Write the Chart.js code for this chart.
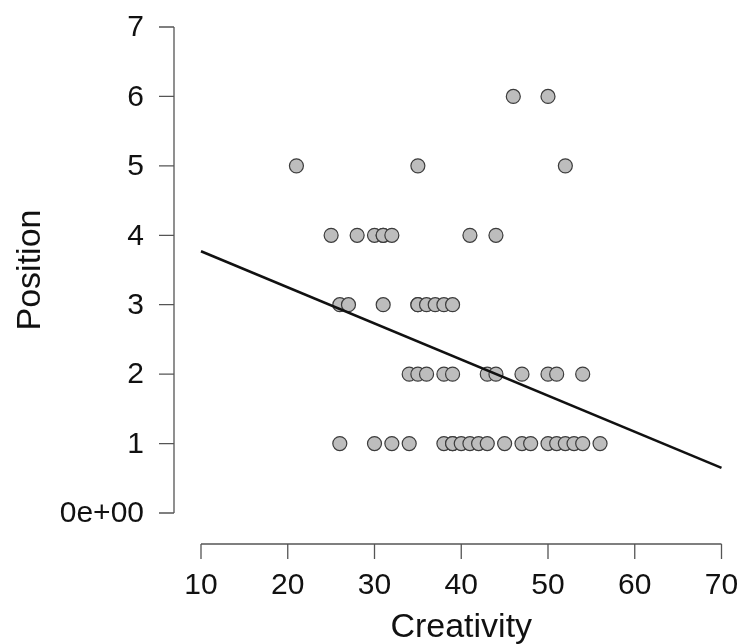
<!DOCTYPE html>
<html>
<head>
<meta charset="utf-8">
<script src="https://cdn.jsdelivr.net/npm/chart.js@4/dist/chart.umd.min.js"></script>
<style>
html,body{margin:0;padding:0;background:#fff;}
#wrap{width:739px;height:644px;}
</style>
</head>
<body>
<div id="wrap"><canvas id="c" width="739" height="644"></canvas></div>
<script>
// Data
const creativity = [46, 50,
  21, 35, 52,
  25, 28, 30, 31, 31, 32, 41, 44,
  26, 27, 31, 35, 35, 36, 37, 38, 39,
  34, 35, 36, 38, 39, 43, 44, 47, 50, 51, 54,
  26, 30, 32, 34, 38, 39, 39, 40, 41, 42, 43, 45, 47, 48, 50, 51, 52, 53, 54, 56];
const position = [6, 6,
  5, 5, 5,
  4, 4, 4, 4, 4, 4, 4, 4,
  3, 3, 3, 3, 3, 3, 3, 3, 3,
  2, 2, 2, 2, 2, 2, 2, 2, 2, 2, 2,
  1, 1, 1, 1, 1, 1, 1, 1, 1, 1, 1, 1, 1, 1, 1, 1, 1, 1, 1, 1];
const fitX = [10, 70];
const fitY = [3.77, 0.65];
const xTicks = [10, 20, 30, 40, 50, 60, 70];
const yTicks = [0, 1, 2, 3, 4, 5, 6, 7];
const yTickLabels = ['0e+00', '1', '2', '3', '4', '5', '6', '7'];
const xTitle = 'Creativity';
const yTitle = 'Position';

const points = creativity.map((x, i) => ({x: x, y: position[i]}));
const fit = fitX.map((x, i) => ({x: x, y: fitY[i]}));

const FONT = '"Liberation Sans", Arial, sans-serif';

const axesPlugin = {
  id: 'rAxes',
  afterDraw(chart) {
    const ctx = chart.ctx;
    const xs = chart.scales.x, ys = chart.scales.y;
    const axisX = 174;   // detached y-axis line
    const axisY = 544;   // detached x-axis line
    const tick = 15;
    ctx.save();
    ctx.strokeStyle = '#555';
    ctx.lineWidth = 1.3;
    ctx.fillStyle = '#111';
    // y axis
    ctx.beginPath();
    ctx.moveTo(axisX, ys.getPixelForValue(yTicks[0]));
    ctx.lineTo(axisX, ys.getPixelForValue(yTicks[yTicks.length - 1]));
    yTicks.forEach(v => {
      const p = ys.getPixelForValue(v);
      ctx.moveTo(axisX, p);
      ctx.lineTo(axisX - tick, p);
    });
    ctx.stroke();
    ctx.font = '30px ' + FONT;
    ctx.textAlign = 'right';
    ctx.textBaseline = 'middle';
    yTicks.forEach((v, i) => {
      ctx.fillText(yTickLabels[i], 144, ys.getPixelForValue(v) + 1);
    });
    // x axis
    ctx.beginPath();
    ctx.moveTo(xs.getPixelForValue(xTicks[0]), axisY);
    ctx.lineTo(xs.getPixelForValue(xTicks[xTicks.length - 1]), axisY);
    xTicks.forEach(v => {
      const p = xs.getPixelForValue(v);
      ctx.moveTo(p, axisY);
      ctx.lineTo(p, axisY + tick);
    });
    ctx.stroke();
    ctx.textAlign = 'center';
    ctx.textBaseline = 'middle';
    xTicks.forEach(v => {
      ctx.fillText(String(v), xs.getPixelForValue(v), 586);
    });
    // titles
    ctx.font = '34px ' + FONT;
    ctx.textBaseline = 'alphabetic';
    ctx.fillText(xTitle, (xs.left + xs.right) / 2, 637);
    ctx.save();
    ctx.translate(40, (ys.top + ys.bottom) / 2);
    ctx.rotate(-Math.PI / 2);
    ctx.fillText(yTitle, 0, 0);
    ctx.restore();
    ctx.restore();
  }
};

new Chart(document.getElementById('c'), {
  type: 'scatter',
  data: {
    datasets: [
      {
        type: 'line',
        data: fit,
        borderColor: '#111',
        borderWidth: 2.5,
        pointRadius: 0,
        fill: false,
        clip: false,
        order: 1
      },
      {
        data: points,
        backgroundColor: '#bdbdbd',
        borderColor: '#3c3c3c',
        borderWidth: 1.2,
        pointRadius: 7,
        pointHoverRadius: 7,
        clip: false,
        order: 2
      }
    ]
  },
  options: {
    responsive: false,
    animation: false,
    events: [],
    layout: {padding: {left: 201, right: 17.5, top: 27, bottom: 131}},
    plugins: {legend: {display: false}, tooltip: {enabled: false}},
    scales: {
      x: {type: 'linear', min: 10, max: 70, display: false},
      y: {type: 'linear', min: 0, max: 7, display: false}
    }
  },
  plugins: [axesPlugin]
});
</script>
</body>
</html>
